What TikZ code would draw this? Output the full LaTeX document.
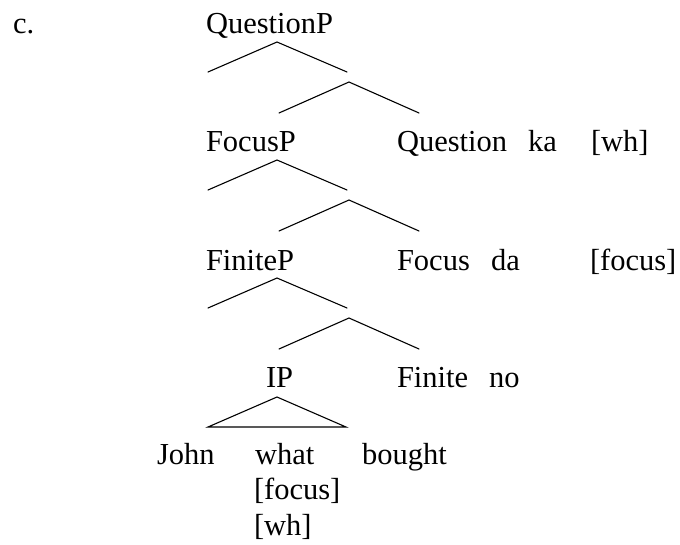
\documentclass[tikz,border=0pt]{standalone}
\usepackage{fontspec}
\setmainfont{Liberation Serif}
\usetikzlibrary{positioning}
\tikzset{
    cat/.style = {anchor=base west, inner sep=0pt, outer sep=0pt, font=\fontsize{30.5}{36}\selectfont},
    branch/.style = {line width=1.1pt, draw=black, line cap=round, line join=miter},
}

\begin{document}
\begin{tikzpicture}[x=1pt, y=-1pt]
  \useasboundingbox (0,0) rectangle (680,544);

  % example letter and left column of phrases
  \node[cat] (ex) at (13,33) {c.};
  \node[cat] (qp) at (206,33) {QuestionP};
  \node[cat] (fp) at (206,151) {FocusP};
  \node[cat] (finp) at (206,270) {FiniteP};
  \node[cat] (ip) at (266,387) {IP};

  % heads with their particles and features
  \node[cat] (qhead) at (397,151) {Question};
  \node[cat] (ka) at (528,151) {ka};
  \node[cat] (qwh) at (591,151) {[wh]};
  \node[cat] (fhead) at (397,270) {Focus};
  \node[cat] (da) at (491,270) {da};
  \node[cat] (ffoc) at (590,270) {[focus]};
  \node[cat] (nhead) at (397,387) {Finite};
  \node[cat] (no) at (489,387) {no};

  % the clause under IP
  \node[cat] (john) at (157,464) {John};
  \node[cat] (what) at (255,464) {what};
  \node[cat] (bought) at (362,464) {bought};
  \node[cat] (wfoc) at (254,499) {[focus]};
  \node[cat] (wwh) at (254,535) {[wh]};

  % two stacked wedges per level
  \foreach \k in {0,1,2} {
    \coordinate (a\k)  at (277, {42+118*\k});
    \coordinate (al\k) at (208, {72+118*\k});
    \coordinate (ar\k) at (347, {72+118*\k});
    \coordinate (b\k)  at (349, {82+118*\k});
    \coordinate (bl\k) at (279, {113+118*\k});
    \coordinate (br\k) at (419, {113+118*\k});
    \draw[branch] (al\k) -- (a\k) -- (ar\k);
    \draw[branch] (bl\k) -- (b\k) -- (br\k);
  }

  % triangle over the IP material
  \coordinate (t)  at (277,397);
  \coordinate (tl) at (208,427);
  \coordinate (tr) at (346,427);
  \draw[branch] (tl) -- (t) -- (tr) -- cycle;

\end{tikzpicture}
\end{document}
